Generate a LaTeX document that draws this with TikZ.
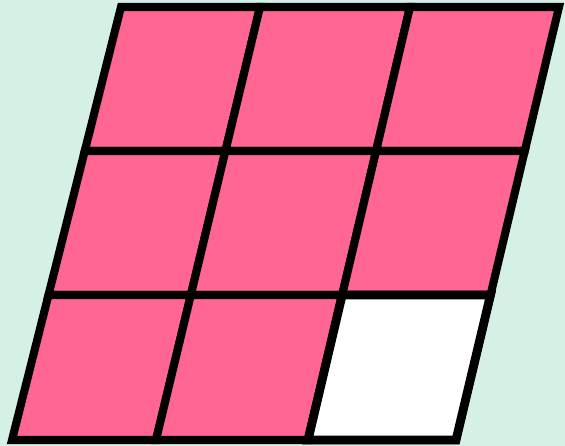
\documentclass[tikz,border=0pt]{standalone}
\usetikzlibrary{calc}
\definecolor{mintbg}{RGB}{213,240,228}
\definecolor{cellpink}{RGB}{255,102,148}

\begin{document}
\begin{tikzpicture}[
            x=0.02cm, y=-0.02cm,
            cell/.style={draw=black, fill=cellpink, line width=4.6pt},
            blank/.style={cell, fill=white, line width=5pt}
        ]
            \fill[mintbg] (0,0) rectangle (565,446);
            \useasboundingbox (0,0) rectangle (565,446);

            % grid corners: column x at top and bottom, row y
            \foreach \i/\xt/\xb in {0/121/12, 1/260/156, 2/410/308, 3/559/456}
                \foreach \j/\y in {0/7, 1/151, 2/295, 3/440}
                    \coordinate (p\i\j) at ({\xb + (\xt-\xb)/433*(440-\y)}, \y);

            \foreach \i/\ii in {0/1, 1/2, 2/3}
                \foreach \j/\jj in {0/1, 1/2, 2/3}
                    \draw[cell] (p\i\j) -- (p\ii\j) -- (p\ii\jj) -- (p\i\jj) -- cycle;

            \draw[blank] (p22) -- (p32) -- (p33) -- (p23) -- cycle;
        \end{tikzpicture}
\end{document}
